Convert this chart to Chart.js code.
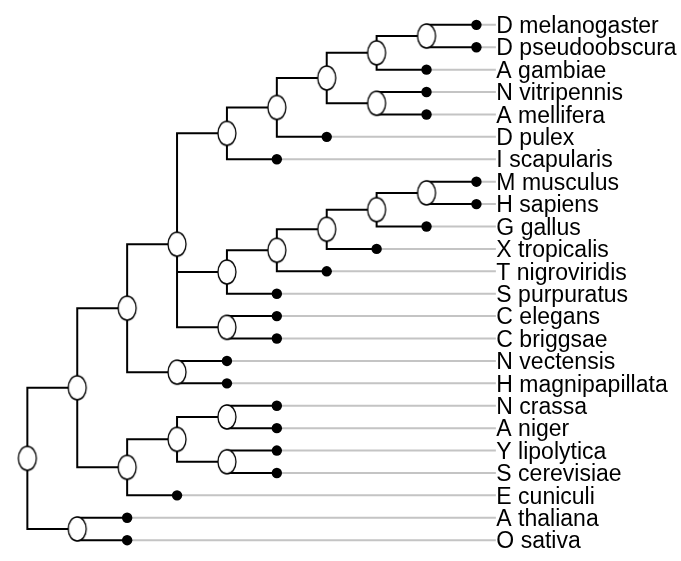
<!DOCTYPE html>
<html>
<head>
<meta charset="utf-8">
<script src="https://cdn.jsdelivr.net/npm/chart.js@4.4.0/dist/chart.umd.min.js"></script>
<style>
  html, body { margin: 0; padding: 0; background: #fff; }
  #wrap { width: 681px; height: 561px; position: relative; }
</style>
</head>
<body>
<div id="wrap"><canvas id="treeChart"></canvas></div>
<script>
// leaves, top to bottom
var species = [
    "D melanogaster", "D pseudoobscura", "A gambiae", "N vitripennis", "A mellifera",
    "D pulex", "I scapularis", "M musculus", "H sapiens", "G gallus", "X tropicalis",
    "T nigroviridis", "S purpuratus", "C elegans", "C briggsae", "N vectensis",
    "H magnipapillata", "N crassa", "A niger", "Y lipolytica", "S cerevisiae",
    "E cuniculi", "A thaliana", "O sativa"
];

// internal nodes: children ids (0-23 leaves, 24+ these clades in order)
var clades = [
    [0, 1],        // 24
    [24, 2],       // 25
    [3, 4],        // 26
    [25, 26],      // 27
    [27, 5],       // 28
    [28, 6],       // 29
    [7, 8],        // 30
    [30, 9],       // 31
    [31, 10],      // 32
    [32, 11],      // 33
    [33, 12],      // 34
    [13, 14],      // 35
    [29, 34, 35],  // 36
    [15, 16],      // 37
    [36, 37],      // 38
    [17, 18],      // 39
    [19, 20],      // 40
    [39, 40],      // 41
    [41, 21],      // 42
    [38, 42],      // 43
    [22, 23],      // 44
    [43, 44]       // 45 root
];

var nLeaf = species.length;
var rootId = nLeaf + clades.length - 1;
var labelEnd = 9.39;
var labelX = 9.4;

// positions: x = depth from root, y = leaf order / mean of children
var depth = {}, ypos = {};
function place(id, d) {
    depth[id] = d;
    if (id < nLeaf) { ypos[id] = id; return; }
    var kids = clades[id - nLeaf], s = 0;
    kids.forEach(function (k) { place(k, d + 1); s += ypos[k]; });
    ypos[id] = s / kids.length;
}
place(rootId, 0);

var gap = { x: NaN, y: NaN };
var edgePts = [], greyPts = [], nodePts = [], leafPts = [];
clades.forEach(function (kids, j) {
    var id = nLeaf + j, px = depth[id];
    var sorted = kids.slice().sort(function (a, b) { return ypos[a] - ypos[b]; });
    var top = sorted[0], bot = sorted[sorted.length - 1];
    edgePts.push({ x: depth[top], y: ypos[top] }, { x: px, y: ypos[top] },
                 { x: px, y: ypos[bot] }, { x: depth[bot], y: ypos[bot] }, gap);
    sorted.slice(1, -1).forEach(function (k) {
        edgePts.push({ x: px, y: ypos[k] }, { x: depth[k], y: ypos[k] }, gap);
    });
    nodePts.push({ x: px, y: ypos[id] });
});
species.forEach(function (name, i) {
    greyPts.push({ x: depth[i], y: i }, { x: labelEnd, y: i }, gap);
    leafPts.push({ x: depth[i], y: i });
});

// white ellipse marker for internal nodes
var oval = document.createElement('canvas');
oval.width = 22; oval.height = 28;
var oc = oval.getContext('2d');
oc.beginPath();
oc.ellipse(11, 14, 9, 12, 0, 0, Math.PI * 2);
oc.fillStyle = '#fff';
oc.fill();
oc.lineWidth = 1.3;
oc.strokeStyle = '#000';
oc.stroke();

var labelPlugin = {
    id: 'leafLabels',
    afterDatasetsDraw: function (chart) {
        var c = chart.ctx, xs = chart.scales.x, ys = chart.scales.y;
        c.save();
        c.font = '23px "Liberation Sans", Arial, sans-serif';
        c.fillStyle = '#000';
        c.textBaseline = 'alphabetic';
        species.forEach(function (name, i) {
            c.fillText(name, xs.getPixelForValue(labelX), ys.getPixelForValue(i) + 8.2);
        });
        c.restore();
    }
};

var ctx = document.getElementById("treeChart");
var treeChart = new Chart(ctx, {
    type: 'scatter',
    data: {
        datasets: [{
            data: leafPts,
            pointStyle: 'circle',
            pointRadius: 5.2,
            backgroundColor: '#000',
            borderColor: '#000',
            borderWidth: 0,
            showLine: false,
            order: 0
        }, {
            data: nodePts,
            pointStyle: oval,
            showLine: false,
            order: 1
        }, {
            data: edgePts,
            showLine: true,
            borderColor: '#000',
            borderWidth: 2,
            pointRadius: 0,
            spanGaps: false,
            borderJoinStyle: 'miter',
            order: 2
        }, {
            data: greyPts,
            showLine: true,
            borderColor: '#c4c4c4',
            borderWidth: 2,
            pointRadius: 0,
            spanGaps: false,
            order: 3
        }]
    },
    options: {
        responsive: true,
        maintainAspectRatio: false,
        animation: false,
        layout: { padding: 0 },
        plugins: { legend: { display: false }, tooltip: { enabled: false } },
        scales: {
            x: { type: 'linear', display: false, min: -0.444, max: 12.996 },
            y: { type: 'linear', display: false, reverse: true, min: -0.876, max: 23.697 }
        }
    },
    plugins: [labelPlugin]
});
</script>
</body>
</html>
